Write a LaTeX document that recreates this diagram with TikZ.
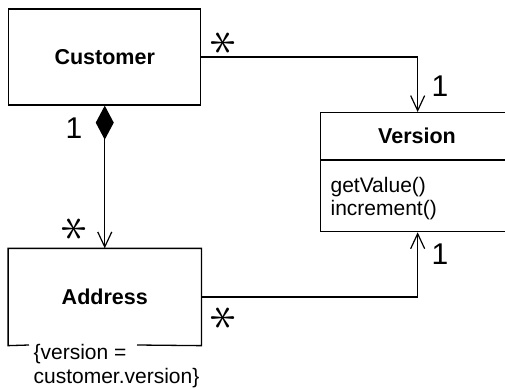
\documentclass[tikz,border=0pt]{standalone}
\usepackage{fontspec}
\setmainfont{Liberation Sans}
\usetikzlibrary{arrows.meta}
\begin{document}
\begin{tikzpicture}[x=1pt,y=-1pt,line width=1.2pt,
  cls/.style={line width=1.3pt,minimum width=192pt,minimum height=96pt,inner sep=0pt,font=\bfseries\fontsize{21.5}{24}\selectfont},
  txt/.style={inner sep=0pt,font=\fontsize{21}{24}\selectfont},
  mult/.style={inner sep=0pt,font=\fontsize{30}{30}\selectfont},
  star/.style={inner sep=0pt},
  nav/.style={-{Straight Barb[length=15pt,width=14pt,line width=1.2pt]}},
  comp/.style={{Diamond[length=34pt,width=18pt,fill=black]}-{Straight Barb[length=15pt,width=14pt,line width=1.2pt]}}]
\newcommand\umlstar{\rotatebox{90}{\scalebox{5.4}{$\ast$}}}
\useasboundingbox (0,0) rectangle (505,390);
% Customer
\node[cls,draw] (cust) at (104.75,57) {Customer};
% Address (bottom edge broken by constraint)
\node[cls] (addr) at (104.75,297) {Address};
\draw[line width=1.3pt] (29,345) -- (addr.south west) -- (addr.north west) -- (addr.north east) -- (addr.south east) -- (137,345);
\node[txt,anchor=base west] (c1) at (33,359) {\{version =};
\node[txt,anchor=base west] (c2) at (33,383) {customer.version\}};
% Version
\node[draw,line width=1.3pt,anchor=north west,minimum width=194pt,minimum height=119pt,inner sep=0pt] (ver) at (320,112) {};
\draw[line width=1.3pt] (320,160) -- (514,160);
\node[inner sep=0pt,font=\bfseries\fontsize{21.5}{24}\selectfont] (vt) at (417,136) {Version};
\node[txt,anchor=base west] (op1) at (330,192) {getValue()};
\node[txt,anchor=base west] (op2) at (330,215) {increment()};
% connectors
\draw[nav] (cust.east) -| (ver.north);
\draw[nav] (addr.east) -| (ver.south);
\draw[comp] (cust.south) -- (addr.north);
% multiplicities
\node[star] (m1) at (224,43) {\umlstar};
\node[mult] (m2) at (440,86) {1};
\node[mult] (m3) at (440,254) {1};
\node[star] (m4) at (224,318) {\umlstar};
\node[mult] (m5) at (74,128) {1};
\node[star] (m6) at (75,229) {\umlstar};
\end{tikzpicture}
\end{document}
